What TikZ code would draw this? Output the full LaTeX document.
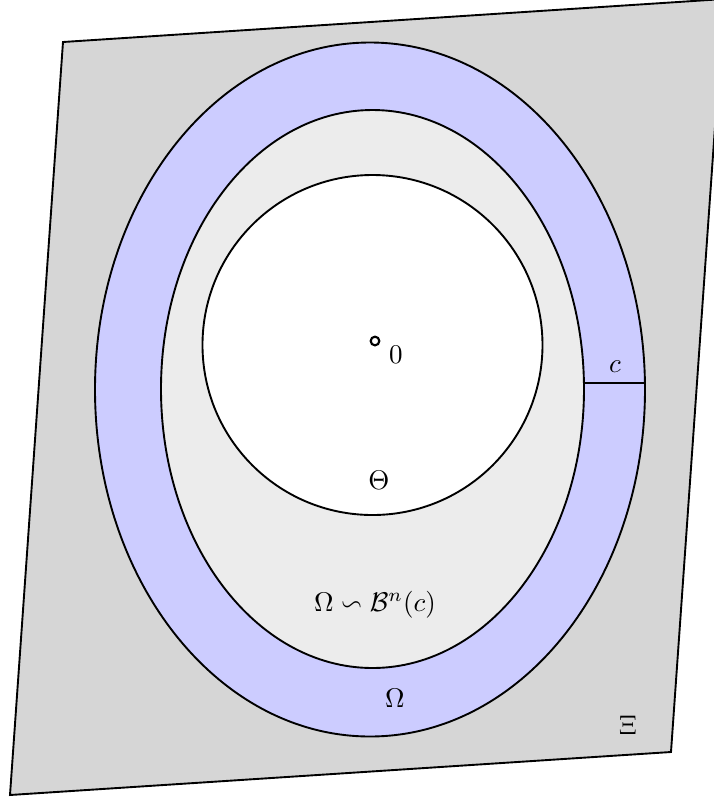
\documentclass[tikz,border=0pt]{standalone}
\usepackage{amssymb}
\definecolor{bggray}{RGB}{214,214,214}
\definecolor{ringblue}{RGB}{204,204,255}
\definecolor{midgray}{RGB}{236,236,236}
\begin{document}
\begin{tikzpicture}[x=0.37pt,y=-0.37pt,
  edge/.style={draw=black,line width=0.7pt},
  lbl/.style={inner sep=0pt}]
\useasboundingbox (0,0) rectangle (714,803);
\clip (0,0) rectangle (714,803);
\coordinate (p1) at (63,42);
\coordinate (p2) at (724,-1);
\coordinate (p3) at (671,752);
\coordinate (p4) at (10,795);
\draw[edge,fill=bggray] (p1) -- (p2) -- (p3) -- (p4) -- cycle;
\draw[edge,fill=ringblue] (370,389.5) ellipse [x radius=275, y radius=347];
\draw[edge,fill=midgray] (372.5,389) ellipse [x radius=211.5, y radius=279];
\draw[edge,fill=white] (372.5,345) circle [radius=170];
\coordinate (c1) at (584,383);
\coordinate (c2) at (645,383);
\draw[edge] (c1) -- (c2);
\node[circle,draw,line width=0.8pt,minimum size=3.2pt,inner sep=0pt] (o) at (375,341) {};
\node[lbl] (zero) at (396,355) {$0$};
\node[lbl] (cl) at (615,367) {$c$};
\node[lbl] (theta) at (379,480) {$\Theta$};
\node[lbl] (om1) at (375,605) {$\Omega\backsim\mathcal{B}^n(c)$};
\node[lbl] (om2) at (395,698) {$\Omega$};
\node[lbl] (xi) at (628,725) {$\Xi$};
\end{tikzpicture}
\end{document}
